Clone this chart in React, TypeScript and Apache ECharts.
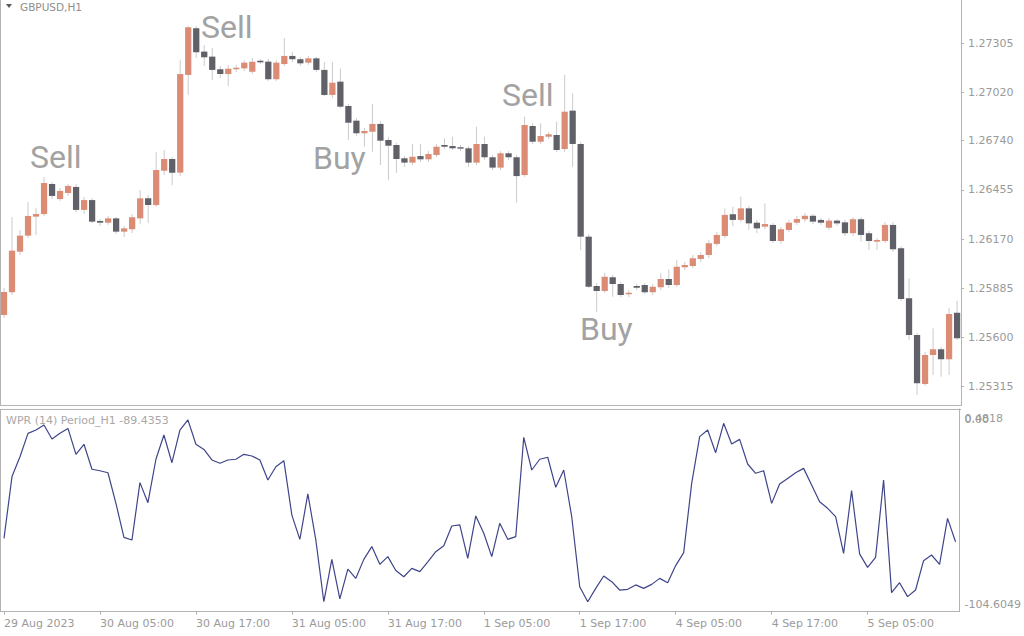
import React, { useEffect, useRef } from "react";
import * as echarts from "echarts";

// ---- Data ----
const opens = [
  1.2573, 1.25862, 1.26097, 1.2619, 1.263, 1.26315, 1.26489, 1.26402, 1.26437, 1.26472,
  1.26339, 1.26396, 1.26275, 1.26265, 1.2629, 1.26213, 1.26227, 1.2629, 1.26406, 1.26367,
  1.26566, 1.26634, 1.26555, 1.27121, 1.27391, 1.27256, 1.27227, 1.27154, 1.27126, 1.27154,
  1.27159, 1.2714, 1.27203, 1.27198, 1.27096, 1.27184, 1.27231, 1.27212, 1.27192, 1.27217,
  1.2715, 1.27005, 1.27082, 1.26941, 1.26856, 1.26783, 1.26792, 1.26837, 1.26744, 1.26715,
  1.26638, 1.26613, 1.26651, 1.26632, 1.26657, 1.26715, 1.26709, 1.26702, 1.26696, 1.26613,
  1.26721, 1.26644, 1.26584, 1.26667, 1.26644, 1.26541, 1.26825, 1.26734, 1.26763, 1.26773,
  1.26692, 1.26914, 1.26721, 1.26184, 1.25898, 1.25869, 1.25949, 1.2591, 1.2585, 1.25898,
  1.25904, 1.25862, 1.25891, 1.25939, 1.25904, 1.26007, 1.26014, 1.26055, 1.26078, 1.26142,
  1.26188, 1.26314, 1.26281, 1.26348, 1.26265, 1.26242, 1.26252, 1.26159, 1.26223, 1.26265,
  1.26285, 1.26305, 1.26281, 1.26236, 1.26277, 1.26267, 1.26204, 1.26285, 1.26204, 1.26155,
  1.26159, 1.26252, 1.26117, 1.25827, 1.25614, 1.25331, 1.25499, 1.25532, 1.25474, 1.25744,
];
const highs = [
  1.25887, 1.26298, 1.26223, 1.26385, 1.2635, 1.2653, 1.26501, 1.26466, 1.26489, 1.26489,
  1.26414, 1.26408, 1.26286, 1.26304, 1.26298, 1.26246, 1.26315, 1.26454, 1.26425, 1.26674,
  1.26686, 1.26646, 1.27207, 1.27404, 1.27404, 1.27294, 1.27277, 1.27173, 1.27179, 1.27179,
  1.27207, 1.27219, 1.27213, 1.27213, 1.27207, 1.27335, 1.27254, 1.27225, 1.27231, 1.27225,
  1.27196, 1.27196, 1.27159, 1.26953, 1.26871, 1.26814, 1.26953, 1.26854, 1.26761, 1.26727,
  1.26651, 1.26721, 1.26721, 1.2668, 1.26721, 1.26754, 1.26763, 1.26715, 1.26709, 1.26821,
  1.26763, 1.26657, 1.2668, 1.2668, 1.26657, 1.26879, 1.26842, 1.26841, 1.2679, 1.2685,
  1.27121, 1.27015, 1.26732, 1.26199, 1.25916, 1.25975, 1.25962, 1.25921, 1.25875, 1.2591,
  1.25916, 1.2591, 1.25972, 1.25995, 1.26049, 1.26037, 1.26078, 1.26095, 1.26165, 1.26211,
  1.26348, 1.26358, 1.26416, 1.26362, 1.26281, 1.26377, 1.26263, 1.2624, 1.26281, 1.26304,
  1.26321, 1.26315, 1.26292, 1.26292, 1.26286, 1.26281, 1.26298, 1.26298, 1.26217, 1.26176,
  1.26269, 1.26269, 1.2613, 1.25943, 1.25626, 1.25516, 1.25653, 1.25545, 1.25772, 1.25813,
];
const lows = [
  1.25713, 1.25846, 1.26078, 1.26176, 1.26194, 1.26304, 1.26402, 1.26391, 1.2642, 1.26327,
  1.26315, 1.26263, 1.26246, 1.26252, 1.26199, 1.26182, 1.26205, 1.26257, 1.26263, 1.26356,
  1.26541, 1.26483, 1.26535, 1.27005, 1.27219, 1.27173, 1.27092, 1.27103, 1.27057, 1.27138,
  1.27144, 1.27126, 1.27184, 1.27086, 1.27086, 1.27173, 1.27196, 1.27173, 1.27179, 1.27138,
  1.26999, 1.26987, 1.26929, 1.26744, 1.26767, 1.26705, 1.26676, 1.26599, 1.26512, 1.26553,
  1.26589, 1.26599, 1.26617, 1.26617, 1.26646, 1.26692, 1.26686, 1.2668, 1.26588, 1.26599,
  1.26628, 1.2657, 1.2657, 1.26628, 1.26381, 1.2653, 1.26721, 1.26721, 1.2675, 1.26674,
  1.26674, 1.26589, 1.26107, 1.25887, 1.25749, 1.25858, 1.25836, 1.25834, 1.25834, 1.25875,
  1.25852, 1.25846, 1.25875, 1.25887, 1.25892, 1.25991, 1.26003, 1.26037, 1.2606, 1.2613,
  1.26176, 1.26246, 1.26269, 1.26223, 1.26205, 1.26228, 1.26147, 1.26142, 1.26211, 1.26252,
  1.26269, 1.26257, 1.26252, 1.26223, 1.26246, 1.26188, 1.26188, 1.26155, 1.26107, 1.26107,
  1.26147, 1.26095, 1.25811, 1.25585, 1.25267, 1.25319, 1.25383, 1.25373, 1.25383, 1.25585,
];
const closes = [
  1.25863, 1.26103, 1.2619, 1.26304, 1.26315, 1.26495, 1.2642, 1.26449, 1.26478, 1.26339,
  1.26396, 1.26271, 1.26265, 1.2629, 1.26213, 1.26232, 1.26296, 1.26406, 1.26367, 1.2657,
  1.26634, 1.26555, 1.27126, 1.27397, 1.27252, 1.27223, 1.2715, 1.27126, 1.27157, 1.27163,
  1.27192, 1.27198, 1.27194, 1.27096, 1.27192, 1.27231, 1.27212, 1.27188, 1.27217, 1.2715,
  1.27005, 1.27076, 1.26937, 1.26844, 1.26783, 1.26796, 1.26837, 1.2674, 1.26711, 1.26634,
  1.26613, 1.26647, 1.26632, 1.26663, 1.26705, 1.26705, 1.26696, 1.26694, 1.26613, 1.26721,
  1.26644, 1.26584, 1.26667, 1.26644, 1.26535, 1.26831, 1.26734, 1.26767, 1.26777, 1.26686,
  1.26908, 1.26721, 1.26184, 1.25894, 1.25869, 1.25952, 1.2591, 1.25846, 1.25859, 1.25888,
  1.25862, 1.25894, 1.25939, 1.25904, 1.2601, 1.2602, 1.26059, 1.26078, 1.26146, 1.26194,
  1.2631, 1.26281, 1.26348, 1.26261, 1.26232, 1.26257, 1.26159, 1.26227, 1.26265, 1.26286,
  1.26305, 1.26271, 1.26265, 1.26277, 1.26261, 1.26204, 1.26285, 1.26194, 1.26159, 1.26165,
  1.26252, 1.26111, 1.25823, 1.25614, 1.25335, 1.25499, 1.25532, 1.25474, 1.25736, 1.25595,
];
const wprValues = [
  -65.3, -31.4, -20.5, -7.7, -5.9, -3.1, -10.8, -7.7, -5.0, -19.2,
  -13.7, -27.4, -28.2, -29.3, -46.1, -64.7, -66.2, -34.7, -45.7, -21.9,
  -8.6, -23.8, -5.9, -0.3, -13.7, -16.5, -22.3, -24.1, -22.3, -21.9,
  -19.2, -20.1, -22.3, -33.3, -26.0, -22.7, -52.5, -65.8, -40.9, -66.2,
  -100, -76.8, -98.5, -82.1, -87.2, -76.8, -69.8, -79.5, -75.3, -82.9,
  -86.3, -81.7, -83.5, -78.1, -72.6, -69.3, -58.5, -57.9, -76.2, -53.0,
  -62.5, -75.3, -57.0, -65.8, -64.3, -9.9, -27.8, -21.9, -20.8, -37.3,
  -27.8, -53.4, -91.8, -100, -92.7, -85.9, -89.0, -93.6, -93.2, -90.8,
  -92.7, -90.5, -87.2, -89.6, -80.2, -73.1, -35.1, -9.5, -5.9, -18.3,
  -2.2, -13.5, -11.0, -24.5, -29.6, -28.2, -46.1, -35.5, -32.4, -29.3,
  -26.9, -36.0, -45.2, -48.8, -53.4, -73.5, -39.1, -73.8, -81.2, -75.7,
  -33.3, -95.0, -89.6, -97.2, -93.6, -77.5, -74.4, -79.5, -54.3, -67.1,
];
const timeTickLabels = [
  "29 Aug 2023", "30 Aug 05:00", "30 Aug 17:00", "31 Aug 05:00", "31 Aug 17:00",
  "1 Sep 05:00", "1 Sep 17:00", "4 Sep 05:00", "4 Sep 17:00", "5 Sep 05:00",
];
const barsPerTimeTick = 12;
const priceTicks = [1.25315, 1.256, 1.25885, 1.2617, 1.26455, 1.2674, 1.2702, 1.27305];
const priceMin = 1.25206;
const priceMax = 1.27555;
const wprRangeTicks = [-104.6049, 0.4818];
const wprRangeLabels = ["-104.6049", "0.4818"];
const wprZeroTick = [0];
const wprZeroLabel = "0.00";
const wprMin = -105.48;
const wprMax = 5.65;
const signals = [
  { text: "Sell", x: 30, y: 157 },
  { text: "Sell", x: 201, y: 27 },
  { text: "Buy", x: 313, y: 158 },
  { text: "Sell", x: 502, y: 95 },
  { text: "Buy", x: 580, y: 329 },
];

const categories = opens.map((_, i) => String(i));

const BULL = "#dc8b74";
const BEAR = "#5f6068";
const WICK = "#cbcbcb";
const FRAME = "#b4b4b4";
const LABEL = "#9a9a9a";
const FONT = "DejaVu Sans";

export default function App() {
  const ref = useRef<HTMLDivElement>(null);
  useEffect(() => {
    if (!ref.current) return;
    const chart = echarts.init(ref.current, null, { renderer: "svg" });
    const candleData = opens.map((o, i) => [i, o, closes[i], lows[i], highs[i]]);
    const isTick = (i: number) => i % barsPerTimeTick === 0;
    const baseLabel = { color: LABEL, fontFamily: FONT, fontSize: 11, align: "left" };
    const option: any = {
      animation: false,
      backgroundColor: "#ffffff",
      grid: [
        { left: -2.5, right: 62.9, top: 0, height: 405.5 },
        { left: -2.5, right: 62.9, top: 409, height: 202.7 },
      ],
      xAxis: [
        {
          type: "category",
          gridIndex: 0,
          data: categories,
          boundaryGap: true,
          axisLine: { show: true, onZero: false, lineStyle: { color: FRAME, width: 1 } },
          axisTick: { show: false },
          axisLabel: { show: false },
          splitLine: { show: false },
        },
        {
          type: "category",
          gridIndex: 1,
          data: categories,
          boundaryGap: true,
          axisLine: { show: true, onZero: false, lineStyle: { color: FRAME, width: 1 } },
          axisTick: {
            show: true,
            alignWithLabel: true,
            interval: (i: number) => isTick(i),
            length: 3,
            lineStyle: { color: FRAME },
          },
          axisLabel: {
            ...baseLabel,
            show: true,
            interval: (i: number) => isTick(i),
            formatter: (_v: string, i: number) =>
              isTick(i) ? timeTickLabels[i / barsPerTimeTick] ?? "" : "",
            margin: 6,
          },
          splitLine: { show: false },
        },
      ],
      yAxis: [
        {
          type: "value",
          gridIndex: 0,
          position: "right",
          min: priceMin,
          max: priceMax,
          axisLine: { show: true, lineStyle: { color: FRAME, width: 1 } },
          axisTick: { show: true, length: 3, customValues: priceTicks, lineStyle: { color: FRAME } },
          axisLabel: {
            ...baseLabel,
            show: true,
            customValues: priceTicks,
            formatter: (v: number) => v.toFixed(5),
            margin: 7,
            showMinLabel: true,
            showMaxLabel: true,
          },
          splitLine: { show: false },
        },
        {
          type: "value",
          gridIndex: 1,
          position: "right",
          min: wprMin,
          max: wprMax,
          axisLine: { show: true, lineStyle: { color: FRAME, width: 1 } },
          axisTick: { show: false },
          axisLabel: {
            ...baseLabel,
            show: true,
            customValues: wprRangeTicks,
            showMinLabel: true,
            showMaxLabel: true,
            formatter: (v: number) => {
              const k = Math.abs(v - wprRangeTicks[0]) < Math.abs(v - wprRangeTicks[1]) ? 0 : 1;
              return k === 0 ? "{lo|" + wprRangeLabels[0] + "}" : wprRangeLabels[1];
            },
            rich: { lo: { padding: [0, 0, 11, 0], color: LABEL, fontFamily: FONT, fontSize: 11 } },
            margin: 5,
          },
          splitLine: { show: false },
        },
        {
          type: "value",
          gridIndex: 1,
          position: "right",
          min: wprMin,
          max: wprMax,
          axisLine: { show: false },
          axisTick: { show: false },
          axisLabel: {
            ...baseLabel,
            show: true,
            customValues: wprZeroTick,
            showMinLabel: true,
            showMaxLabel: true,
            formatter: () => wprZeroLabel,
            margin: 5,
          },
          splitLine: { show: false },
        },
      ],
      series: [
        {
          type: "custom",
          name: "GBPUSD,H1",
          xAxisIndex: 0,
          yAxisIndex: 0,
          data: candleData,
          encode: { x: 0, y: [1, 2, 3, 4] },
          clip: true,
          renderItem: (_params: any, api: any) => {
            const i = api.value(0);
            const o = api.value(1);
            const c = api.value(2);
            const l = api.value(3);
            const h = api.value(4);
            const pO = api.coord([i, o]);
            const pC = api.coord([i, c]);
            const pL = api.coord([i, l]);
            const pH = api.coord([i, h]);
            const bw = api.size([1, 0])[0] * 0.78;
            const top = Math.min(pO[1], pC[1]);
            const hgt = Math.max(Math.abs(pO[1] - pC[1]), 1.2);
            const bull = c >= o;
            return {
              type: "group",
              children: [
                {
                  type: "line",
                  shape: { x1: pH[0], y1: pH[1], x2: pL[0], y2: pL[1] },
                  style: { stroke: WICK, lineWidth: 1 },
                },
                {
                  type: "rect",
                  shape: { x: pO[0] - bw / 2, y: top, width: bw, height: hgt },
                  style: { fill: bull ? BULL : BEAR },
                },
              ],
            };
          },
        },
        {
          type: "line",
          name: "WPR (14)",
          xAxisIndex: 1,
          yAxisIndex: 1,
          data: wprValues,
          symbol: "none",
          lineStyle: { color: "#3f4589", width: 1.2 },
        },
      ],
      graphic: [
        { type: "line", shape: { x1: 0.5, y1: 0, x2: 0.5, y2: 405.5 }, style: { stroke: FRAME, lineWidth: 1 } },
        { type: "line", shape: { x1: 0.5, y1: 409, x2: 0.5, y2: 611.7 }, style: { stroke: FRAME, lineWidth: 1 } },
        { type: "line", shape: { x1: 0, y1: 409.5, x2: 961, y2: 409.5 }, style: { stroke: FRAME, lineWidth: 1 } },
        { type: "polygon", shape: { points: [[6, 4], [12, 4], [9, 8]] }, style: { fill: "#5a5a5a" } },
        {
          type: "text",
          x: 20,
          y: 6.5,
          style: { text: "GBPUSD,H1", fill: "#8e8e8e", font: "10.5px 'DejaVu Sans'", verticalAlign: "middle", align: "left" },
        },
        {
          type: "text",
          x: 6,
          y: 420,
          style: { text: "WPR (14) Period_H1 -89.4353", fill: "#a8a8a8", font: "11px 'DejaVu Sans'", verticalAlign: "middle", align: "left" },
        },
        ...signals.map((s) => ({
          type: "text",
          x: s.x,
          y: s.y,
          style: { text: s.text, fill: "#a2a2a2", font: "32px Roboto", verticalAlign: "middle", align: "left" },
        })),
      ],
    };
    chart.setOption(option);
    return () => chart.dispose();
  }, []);
  return (
    <div
      ref={ref}
      style={{ position: "fixed", left: 0, top: 0, width: 1024, height: 636, background: "#fff" }}
    />
  );
}
